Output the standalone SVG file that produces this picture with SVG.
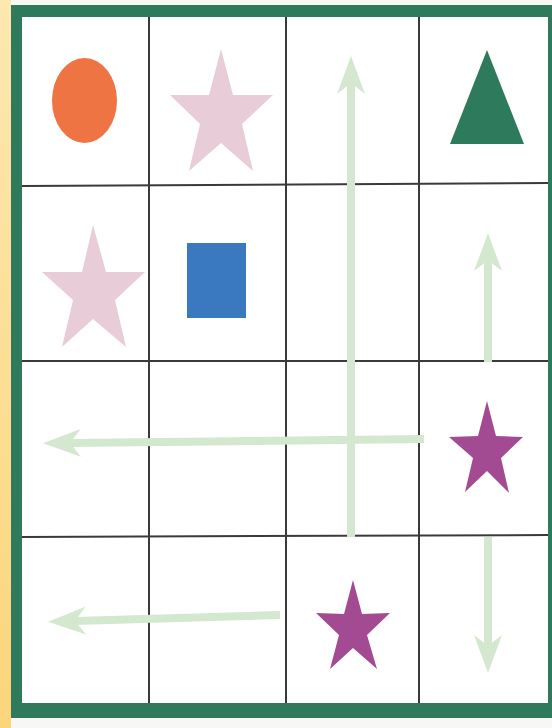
<svg xmlns="http://www.w3.org/2000/svg" width="552" height="728" viewBox="0 0 552 728">
<defs>
<style>
.grid{stroke:#3a3a3a;stroke-width:2;fill:none}
.arrow{stroke:#d3e8cf;stroke-width:8;fill:none;marker-end:url(#head)}
.pink{fill:#e8cdd8}
.purple{fill:#a24a92}
</style>
<marker id="head" markerUnits="userSpaceOnUse" viewBox="0 0 38 28" refX="11" refY="14" markerWidth="38" markerHeight="28" orient="auto">
<path d="M38,14 L0,0 L11,14 L0,28 Z" fill="#d3e8cf"/>
</marker>
<linearGradient id="ystrip" x1="0" y1="0" x2="0" y2="1">
<stop offset="0" stop-color="#fde8b0"/>
<stop offset="1" stop-color="#fcd57a"/>
</linearGradient>
</defs>
<rect x="0" y="0" width="552" height="728" fill="#f7f7f5"/>
<rect x="0" y="0" width="11" height="728" fill="url(#ystrip)"/>
<g id="frame">
<rect x="11" y="5" width="541" height="713" fill="#2f7a5c"/>
<rect x="22" y="17" width="526" height="686" fill="#ffffff"/>
</g>
<g id="grid">
<line class="grid" x1="149" y1="17" x2="149" y2="703"/>
<line class="grid" x1="286" y1="17" x2="286" y2="703"/>
<line class="grid" x1="419" y1="17" x2="419" y2="703"/>
<line class="grid" x1="22" y1="186" x2="548" y2="183"/>
<line class="grid" x1="22" y1="361" x2="548" y2="361"/>
<line class="grid" x1="22" y1="537" x2="548" y2="535"/>
</g>
<g id="connectors">
<line class="arrow" x1="351" y1="537" x2="351" y2="83"/>
<line class="arrow" x1="488" y1="362" x2="488" y2="260"/>
<line class="arrow" x1="424" y1="439" x2="70" y2="443"/>
<line class="arrow" x1="280" y1="615" x2="75" y2="621"/>
<line class="arrow" x1="488" y1="537" x2="488" y2="646"/>
</g>
<g id="orange-ellipse">
<ellipse cx="84.5" cy="100.5" rx="32.5" ry="42.5" fill="#ee7444"/>
</g>
<g id="pink-star-1">
<polygon class="pink" points="221,49 233,95 273,95 242,124 253,171 221,143 189,171 200,124 170,95 209,95"/>
</g>
<g id="green-triangle">
<polygon points="487,50 524,144 450,144" fill="#2e7a5c"/>
</g>
<g id="pink-star-2">
<polygon class="pink" points="93,225 106,272 145,272 115,300 126,347 93,319 62,347 73,300 42,272 82,272"/>
</g>
<g id="blue-rect">
<rect x="187" y="243" width="59" height="75" fill="#3a78c0"/>
</g>
<g id="purple-star-1">
<polygon class="purple" points="487,401 496,436 523,437 501,458 509,493 487,471 465,492 473,458 449,437 478,436"/>
</g>
<g id="purple-star-2">
<polygon class="purple" points="353,580 362,614 390,613 367,635 377,669 353,648 330,669 339,635 316,613 344,614"/>
</g>
</svg>
